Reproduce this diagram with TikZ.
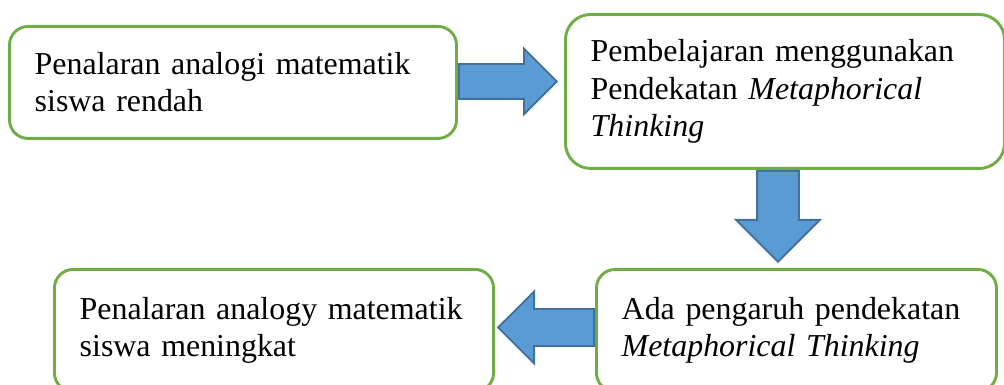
\documentclass[tikz,border=0pt]{standalone}
\usepackage{fontspec}
\setmainfont{Liberation Serif}
\usetikzlibrary{positioning, shapes.arrows, calc}
\definecolor{boxgreen}{HTML}{70AD47}
\definecolor{arrowfill}{HTML}{5B9BD5}
\definecolor{arrowline}{HTML}{41719C}

\begin{document}
\begin{tikzpicture}[
        x=0.376pt, y=-0.376pt,
        stepbox/.style={rectangle, draw=boxgreen, line width=1.1pt, rounded corners=7pt, anchor=north west, align=left, inner xsep=9.5pt, inner ysep=0pt, font=\fontsize{12pt}{14pt}\selectfont},
        flow/.style={single arrow, draw=arrowline, fill=arrowfill, line width=0.7pt, anchor=tail, single arrow tip angle=90}
    ]

    \useasboundingbox (0,0) rectangle (1004,385);
    \clip (0,0) rectangle (1004,385);

    % Boxes (pixel coordinates of the top left corners)
    \node[stepbox, minimum width=168.1pt, minimum height=42.1pt, text width=149.1pt] (rendah) at (8,25)
        {Penalaran analogi matematik\\siswa rendah};
    \node[stepbox, rounded corners=9.5pt, minimum width=165.1pt, minimum height=57.9pt, text width=146.1pt] (belajar) at (564,13)
        {Pembelajaran menggunakan\\Pendekatan \textit{Metaphorical}\\\textit{Thinking}};
    \node[stepbox, minimum width=150.4pt, minimum height=45.9pt, text width=131.4pt] (pengaruh) at (595,268)
        {Ada pengaruh pendekatan\\\textit{Metaphorical Thinking}};
    \node[stepbox, minimum width=165.1pt, minimum height=45.9pt, text width=146.1pt] (meningkat) at (53,268)
        {Penalaran analogy matematik\\siswa meningkat};

    % Block arrows (inner sep = half the shaft width)
    \node[flow, inner sep=6.2pt, minimum height=36.8pt, single arrow head extend=5.8pt] (ab) at ($(rendah.east)+(0,-1)$) {};
    \node[flow, inner sep=7.5pt, shape border rotate=270, minimum height=34.2pt, single arrow head extend=7.9pt] (bc) at ($(belajar.south)+(-7,0)$) {};
    \node[flow, inner sep=6.6pt, shape border rotate=180, minimum height=36.1pt, single arrow head extend=6.6pt] (cd) at ($(pengaruh.west)+(0,-3)$) {};

\end{tikzpicture}
\end{document}
